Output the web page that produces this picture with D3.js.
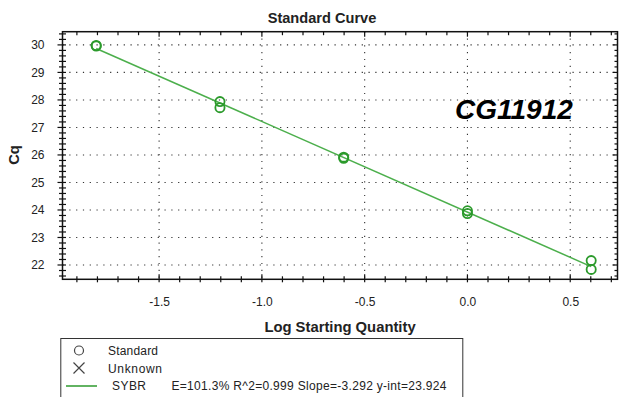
<!DOCTYPE html>
<html>
<head>
<meta charset="utf-8">
<script src="https://cdn.jsdelivr.net/npm/d3@7/dist/d3.min.js"></script>
<style>
  html, body { margin: 0; padding: 0; background: #fff; }
  svg { display: block; }
  text { font-family: "Liberation Sans", Arial, sans-serif; }
</style>
</head>
<body>
<svg id="chart" width="620" height="397"></svg>
<script>
// Standard dilution series (log10 starting quantity) and measured Cq replicates
const logQuantity = [-1.806, -1.806, -1.204, -1.204, -0.602, -0.602, 0.0, 0.0, 0.602, 0.602];
const cqValues    = [29.98, 29.96, 27.94, 27.72, 25.92, 25.88, 23.97, 23.87, 22.16, 21.84];

// Linear fit reported for the SYBR series
const fitSlope = -3.292;
const fitIntercept = 23.924;

const xTickValues = [-1.5, -1.0, -0.5, 0.0, 0.5];
const xTickLabels = ["-1.5", "-1.0", "-0.5", "0.0", "0.5"];
const yTickValues = [22, 23, 24, 25, 26, 27, 28, 29, 30];
const yTickLabels = ["22", "23", "24", "25", "26", "27", "28", "29", "30"];

const legendLabels = ["Standard", "Unknown", "SYBR"];
const fitLabel = "E=101.3% R^2=0.999 Slope=-3.292 y-int=23.924";
const chartTitle = "Standard Curve";
const xTitle = "Log Starting Quantity";
const yTitle = "Cq";
const geneName = "CG11912";

const svg = d3.select("#chart");
const plot = { left: 62.5, right: 617.5, top: 31.7, bottom: 279.3 };

const x = d3.scaleLinear().domain([-1.97, 0.73]).range([plot.left, plot.right]);
const y = d3.scaleLinear().domain([21.48, 30.48]).range([plot.bottom, plot.top]);

const pointColor = "#2b9a2b";
const lineColor = "#4caf4c";

// Dotted grid at the major ticks
const grid = svg.append("g").attr("stroke", "#333").attr("stroke-width", 1.1)
  .attr("stroke-dasharray", "1.2,5.6");
grid.selectAll("line.h").data(yTickValues).join("line")
  .attr("x1", plot.left).attr("x2", plot.right)
  .attr("y1", d => y(d)).attr("y2", d => y(d));
grid.selectAll("line.v").data(xTickValues).join("line")
  .attr("y1", plot.top).attr("y2", plot.bottom)
  .attr("x1", d => x(d)).attr("x2", d => x(d));

// Minor tick positions
const xMinor = d3.range(-19, 8).map(i => i / 10);
const yMinor = d3.range(108, 153).map(i => i / 5);
const isMajorX = d => xTickValues.some(v => Math.abs(v - d) < 1e-6);
const isMajorY = d => yTickValues.some(v => Math.abs(v - d) < 1e-6);

const axisColor = "#111";
const ticks = svg.append("g").attr("stroke", axisColor).attr("stroke-width", 1.2);

// Bottom axis: ticks cross the axis line, majors slightly longer
ticks.selectAll("line.bx").data(xMinor).join("line")
  .attr("x1", d => x(d)).attr("x2", d => x(d))
  .attr("y1", d => plot.bottom - (isMajorX(d) ? 5 : 3))
  .attr("y2", plot.bottom + 3);
// Top axis: inward ticks
ticks.selectAll("line.tx").data(xMinor).join("line")
  .attr("x1", d => x(d)).attr("x2", d => x(d))
  .attr("y1", plot.top)
  .attr("y2", d => plot.top + (isMajorX(d) ? 5 : 3.5));
// Left axis: ticks cross the axis line
ticks.selectAll("line.ly").data(yMinor).join("line")
  .attr("y1", d => y(d)).attr("y2", d => y(d))
  .attr("x1", d => plot.left - (isMajorY(d) ? 5 : 3.5))
  .attr("x2", plot.left + 3.5);
// Right axis: inward ticks
ticks.selectAll("line.ry").data(yMinor).join("line")
  .attr("y1", d => y(d)).attr("y2", d => y(d))
  .attr("x1", plot.right)
  .attr("x2", d => plot.right - (isMajorY(d) ? 5 : 3));

// Frame
svg.append("rect")
  .attr("x", plot.left).attr("y", plot.top)
  .attr("width", plot.right - plot.left).attr("height", plot.bottom - plot.top)
  .attr("fill", "none").attr("stroke", axisColor).attr("stroke-width", 1.5);

// Tick labels via d3 axes
const xAxis = d3.axisBottom(x).tickValues(xTickValues)
  .tickFormat((d, i) => xTickLabels[i]).tickSize(0).tickPadding(18);
const gx = svg.append("g").attr("transform", `translate(0,${plot.bottom})`).call(xAxis);
gx.select(".domain").remove();
gx.selectAll("text").attr("font-size", 12).attr("fill", "#222")
  .attr("font-family", "'Liberation Sans', Arial, sans-serif");

const yAxis = d3.axisLeft(y).tickValues(yTickValues)
  .tickFormat((d, i) => yTickLabels[i]).tickSize(0).tickPadding(18);
const gy = svg.append("g").attr("transform", `translate(${plot.left},0)`).call(yAxis);
gy.select(".domain").remove();
gy.selectAll("text").attr("font-size", 12).attr("fill", "#222")
  .attr("font-family", "'Liberation Sans', Arial, sans-serif");

// Regression line across the standard range
const xExt = d3.extent(logQuantity);
svg.append("line")
  .attr("x1", x(xExt[0])).attr("y1", y(fitIntercept + fitSlope * xExt[0]))
  .attr("x2", x(xExt[1])).attr("y2", y(fitIntercept + fitSlope * xExt[1]))
  .attr("stroke", lineColor).attr("stroke-width", 1.5);

// Standard points
svg.append("g").selectAll("circle").data(logQuantity).join("circle")
  .attr("cx", d => x(d)).attr("cy", (d, i) => y(cqValues[i]))
  .attr("r", 4.6).attr("fill", "none")
  .attr("stroke", pointColor).attr("stroke-width", 1.8);

// Titles
svg.append("text").attr("x", 322).attr("y", 23).attr("text-anchor", "middle")
  .attr("font-size", 14.6).attr("font-weight", "bold").attr("fill", "#222").text(chartTitle);
svg.append("text").attr("x", 340).attr("y", 332).attr("text-anchor", "middle")
  .attr("font-size", 14.8).attr("font-weight", "bold").attr("fill", "#222").text(xTitle);
svg.append("text").attr("transform", "translate(19,155) rotate(-90)").attr("text-anchor", "middle")
  .attr("font-size", 14.6).attr("font-weight", "bold").attr("fill", "#222").text(yTitle);

// Gene label
svg.append("text").attr("x", 455).attr("y", 119)
  .attr("font-family", "'Open Sans', 'Noto Sans', sans-serif")
  .attr("font-size", 28).attr("font-weight", "bold").attr("font-style", "italic")
  .attr("fill", "#000").text(geneName);

// Legend
const lg = svg.append("g");
lg.append("rect").attr("x", 60.8).attr("y", 338.5).attr("width", 402).attr("height", 80)
  .attr("fill", "#fff").attr("stroke", "#333").attr("stroke-width", 1);
lg.append("circle").attr("cx", 79).attr("cy", 350.5).attr("r", 4.5)
  .attr("fill", "none").attr("stroke", "#444").attr("stroke-width", 1.2);
lg.append("path").attr("d", "M73.5,362.5 L84.5,373.5 M84.5,362.5 L73.5,373.5")
  .attr("stroke", "#444").attr("stroke-width", 1.2);
lg.append("line").attr("x1", 66).attr("x2", 97).attr("y1", 386).attr("y2", 386)
  .attr("stroke", "#2e9a2e").attr("stroke-width", 1.5);
const legendY = [354.5, 372.5, 390];
const legendX = [108, 108, 112];
const legendW = [50, 54, 34];
lg.selectAll("text.lab").data(legendLabels).join("text")
  .attr("x", (d, i) => legendX[i]).attr("y", (d, i) => legendY[i])
  .attr("font-size", 12).attr("fill", "#222")
  .attr("textLength", (d, i) => legendW[i]).attr("lengthAdjust", "spacing")
  .text(d => d);
lg.append("text").attr("x", 171.5).attr("y", 390)
  .attr("font-size", 12).attr("fill", "#222")
  .attr("textLength", 275).attr("lengthAdjust", "spacing")
  .text(fitLabel);
</script>
</body>
</html>
